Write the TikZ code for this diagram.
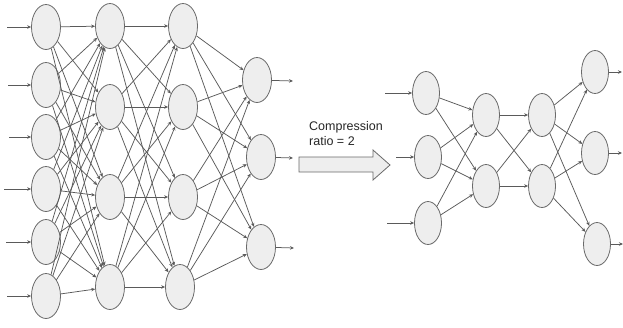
\documentclass[tikz,border=0pt]{standalone}
\usepackage{fontspec}
\setmainfont{Liberation Sans}
\usetikzlibrary{arrows.meta,shapes.geometric}
\definecolor{nfill}{HTML}{EEEEEE}
\definecolor{nline}{HTML}{6A6A6A}
\definecolor{eline}{HTML}{5A5A5A}
\begin{document}
\begin{tikzpicture}[x=1pt,y=-1pt,
  big/.style={ellipse,draw=nline,fill=nfill,line width=0.8pt,minimum width=29pt,minimum height=45pt,inner sep=0pt},
  small/.style={ellipse,draw=nline,fill=nfill,line width=0.8pt,minimum width=27pt,minimum height=43pt,inner sep=0pt},
  edge/.style={draw=eline,line width=0.75pt,-{Stealth[length=4pt,width=3.5pt]}},
  lbl/.style={font=\fontsize{12.5}{14}\selectfont,text=black!85,anchor=west,inner sep=0pt}]
\useasboundingbox (0,0) rectangle (623,327);
% left network
\node[big] (a1) at (46,27) {};
\node[big] (a2) at (46,85) {};
\node[big] (a3) at (46,137) {};
\node[big] (a4) at (46,189) {};
\node[big] (a5) at (46,242) {};
\node[big] (a6) at (46,296) {};
\node[big] (b1) at (110,26) {};
\node[big] (b2) at (110,107) {};
\node[big] (b3) at (110,197) {};
\node[big] (b4) at (110,287) {};
\node[big] (c1) at (183,26) {};
\node[big] (c2) at (183,107) {};
\node[big] (c3) at (183,197) {};
\node[big] (c4) at (180,287) {};
\node[big] (d1) at (257,80) {};
\node[big] (d2) at (261,157) {};
\node[big] (d3) at (261,247) {};
\foreach \i in {1,...,6}{\foreach \j in {1,...,4}{\draw[edge] (a\i) -- (b\j);}}
\foreach \i in {1,...,4}{\foreach \j in {1,...,4}{\draw[edge] (b\i) -- (c\j);}}
\foreach \i in {1,...,4}{\foreach \j in {1,...,3}{\draw[edge] (c\i) -- (d\j);}}
\coordinate (ia1) at (7,27);
\coordinate (ia2) at (8,85);
\coordinate (ia3) at (9,137);
\coordinate (ia4) at (4,189);
\coordinate (ia5) at (6,242);
\coordinate (ia6) at (7,296);
\foreach \i in {1,...,6}{\draw[edge] (ia\i) -- (a\i);}
\coordinate (od1) at (293,81);
\coordinate (od2) at (293,158);
\coordinate (od3) at (294,248);
\foreach \i in {1,...,3}{\draw[edge] (d\i) -- (od\i);}
% compression arrow
\draw[draw=nline,fill=nfill,line width=0.8pt] (299,157) -- (373,157) -- (373,150) -- (390,165) -- (373,180) -- (373,172) -- (299,172) -- cycle;
\node[lbl] (t1) at (309,127) {Compression};
\node[lbl] (t2) at (309,141) {ratio = 2};
% right network
\node[small] (p1) at (426,93) {};
\node[small] (p2) at (428,157) {};
\node[small] (p3) at (428,223) {};
\node[small] (q1) at (486,115) {};
\node[small] (q2) at (486,186) {};
\node[small] (r1) at (542,115) {};
\node[small] (r2) at (542,186) {};
\node[small] (s1) at (595,72) {};
\node[small] (s2) at (595,153) {};
\node[small] (s3) at (597,244) {};
\foreach \i in {1,...,3}{\foreach \j in {1,2}{\draw[edge] (p\i) -- (q\j);}}
\foreach \i in {1,2}{\foreach \j in {1,2}{\draw[edge] (q\i) -- (r\j);}}
\foreach \i in {1,2}{\foreach \j in {1,...,3}{\draw[edge] (r\i) -- (s\j);}}
\coordinate (ip1) at (385,93);
\coordinate (ip2) at (396,157);
\coordinate (ip3) at (387,223);
\foreach \i in {1,...,3}{\draw[edge] (ip\i) -- (p\i);}
\coordinate (os1) at (622,72);
\coordinate (os2) at (622,153);
\coordinate (os3) at (623,244);
\foreach \i in {1,...,3}{\draw[edge] (s\i) -- (os\i);}
\end{tikzpicture}
\end{document}
